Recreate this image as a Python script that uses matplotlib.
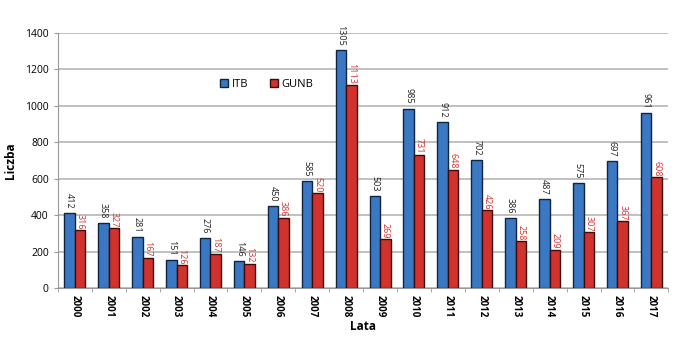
import numpy as np
import matplotlib
matplotlib.use("Agg")
import matplotlib.pyplot as plt

years = ["2000", "2001", "2002", "2003", "2004", "2005", "2006", "2007", "2008",
         "2009", "2010", "2011", "2012", "2013", "2014", "2015", "2016", "2017"]
itb = [412, 358, 281, 151, 276, 146, 450, 585, 1305, 503, 985, 912, 702, 386, 487, 575, 697, 961]
gunb = [316, 327, 167, 126, 187, 132, 386, 520, 1113, 269, 731, 648, 426, 258, 209, 307, 367, 608]

plt.rcParams['font.family'] = ['Open Sans', 'DejaVu Sans']

fig = plt.figure(figsize=(6.89, 3.44), dpi=100)
ax = fig.add_axes([0.084, 0.163, 0.886, 0.741])

x = np.arange(len(years))
w = 0.31
ax.bar(x - w / 2, itb, w, color="#3b78c4", edgecolor="#10243d", linewidth=1.0,
       label="ITB", zorder=3)
ax.bar(x + w / 2, gunb, w, color="#d2322e", edgecolor="#3a0d0c", linewidth=1.0,
       label="GUNB", zorder=3)

for xi, v in zip(x, itb):
    ax.text(xi - w / 2, v + 25, str(v), rotation=270, ha="center", va="bottom",
            fontsize=6.5, color="#222222", zorder=4)
for xi, v in zip(x, gunb):
    ax.text(xi + w / 2, v + 5, str(v), rotation=270, ha="center", va="bottom",
            fontsize=6.5, color="#d2322e", zorder=4)

ax.set_ylim(0, 1400)
ax.set_yticks(range(0, 1401, 200))
ax.set_xlim(-0.5, len(years) - 0.5)
ax.set_xticks(x)
ax.set_xticklabels(years, rotation=270, fontweight="bold", fontsize=7)
ax.set_xticks(np.arange(-0.5, len(years), 1), minor=True)
ax.tick_params(axis="x", which="major", length=0, pad=5)
ax.tick_params(axis="x", which="minor", length=3, color="#999999")
ax.tick_params(axis="y", labelsize=7.5, length=3, color="#999999")

ax.grid(axis="y", color="#c0c0c0", linewidth=1.4, zorder=0)
for s in ["top", "right"]:
    ax.spines[s].set_visible(False)
ax.spines["left"].set_color("#999999")
ax.spines["bottom"].set_color("#999999")

ax.set_ylabel("Liczba", fontweight="bold", fontsize=8.5, labelpad=6)
ax.set_xlabel("Lata", fontweight="bold", fontsize=8.5, labelpad=2)

ax.legend(loc="center left", bbox_to_anchor=(0.25, 0.80), ncol=2, frameon=False,
          fontsize=8, handlelength=0.7, handleheight=0.7, columnspacing=2.0,
          handletextpad=0.3)

fig.savefig("out.png", dpi=100)
